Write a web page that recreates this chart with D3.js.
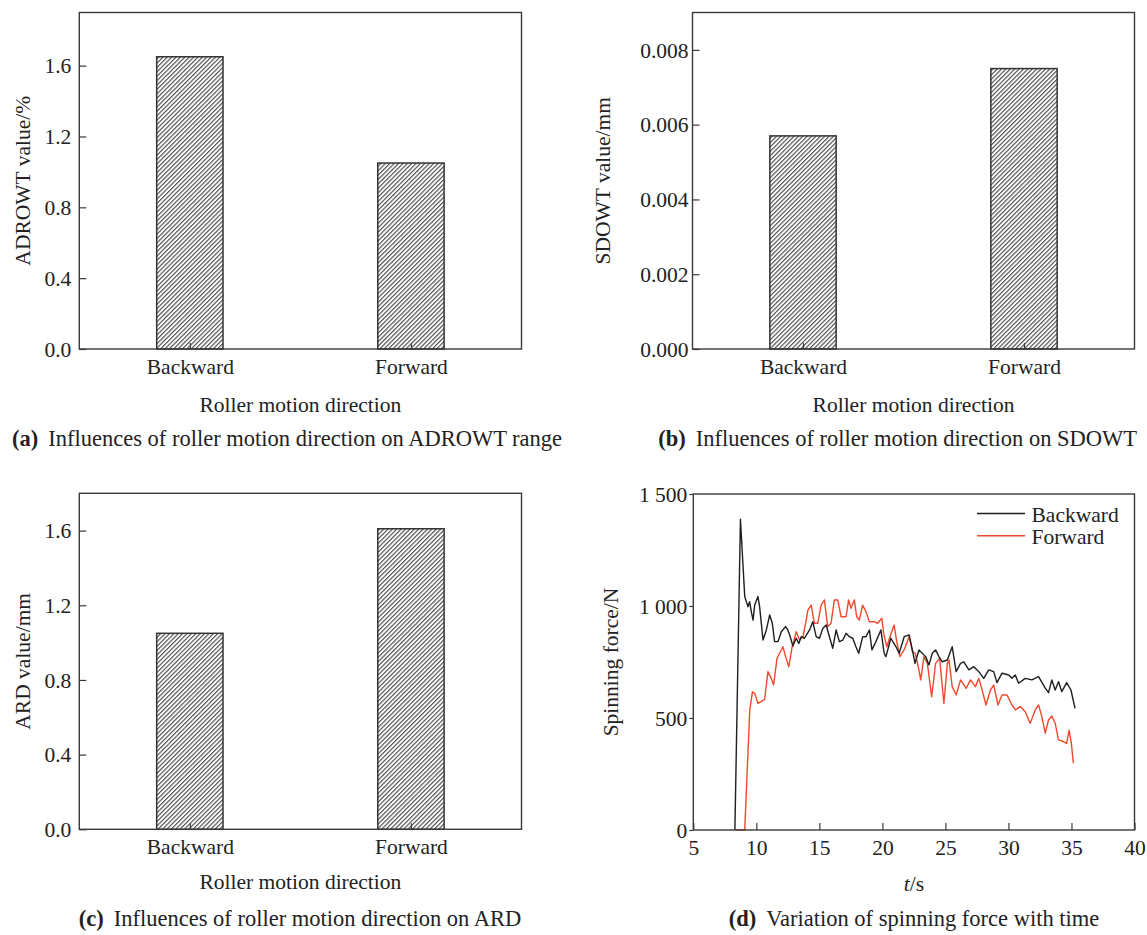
<!DOCTYPE html>
<html>
<head>
<meta charset="utf-8">
<script src="https://cdn.jsdelivr.net/npm/d3@7"></script>
<style>
  body { margin: 0; background: #fff; }
  svg { display: block; }
  text { font-family: "Liberation Serif", "Times New Roman", serif; fill: #222; }
</style>
</head>
<body>
<svg id="fig" width="1147" height="935"></svg>
<script>
// ---- data ----
const directions = ["Backward", "Forward"];
const adrowtValues = [1.65, 1.05];       // %
const sdowtValues = [0.0057, 0.0075];    // mm
const ardValues = [1.05, 1.61];          // mm
const adrowtTicks = [0, 0.4, 0.8, 1.2, 1.6];
const sdowtTicks = [0, 0.002, 0.004, 0.006, 0.008];
const ardTicks = [0, 0.4, 0.8, 1.2, 1.6];

// spinning force vs time (s, N)
const backwardTime = [8.3, 8.74, 9.08, 9.34, 9.47, 9.6, 9.74, 9.87, 10.13, 10.26, 10.53, 10.79, 11.06, 11.27, 11.45, 11.72, 11.98, 12.32, 12.5, 12.69, 12.9, 13.16, 13.37, 13.56, 13.82, 14.22, 14.48, 14.75, 15.01, 15.27, 15.54, 15.8, 16.06, 16.33, 16.59, 16.86, 17.12, 17.38, 17.65, 17.9, 18.12, 18.44, 18.7, 18.97, 19.17, 19.49, 19.88, 20.14, 20.28, 20.67, 21.07, 21.33, 21.73, 22.12, 22.38, 22.59, 22.9, 23.43, 23.7, 23.96, 24.22, 24.49, 24.75, 25.15, 25.54, 25.85, 26.2, 26.46, 26.86, 27.25, 27.65, 28.04, 28.44, 28.83, 29.09, 29.49, 30.02, 30.28, 30.54, 30.81, 31.33, 31.86, 32.39, 32.92, 33.18, 33.44, 33.71, 33.97, 34.23, 34.62, 34.96, 35.28];
const backwardForce = [0, 1387, 1042, 997, 1019, 975, 937, 1004, 1042, 997, 848, 892, 960, 922, 841, 841, 885, 908, 893, 863, 821, 856, 833, 863, 856, 893, 930, 863, 856, 900, 915, 863, 811, 893, 841, 848, 878, 863, 856, 818, 789, 863, 863, 893, 804, 841, 893, 789, 774, 856, 819, 789, 863, 871, 804, 744, 804, 774, 737, 789, 804, 774, 751, 759, 818, 707, 744, 751, 715, 729, 707, 677, 715, 707, 658, 700, 692, 677, 692, 655, 677, 670, 685, 633, 613, 670, 625, 662, 618, 658, 625, 543];

const forwardTime = [8.37, 9.08, 9.48, 9.69, 9.87, 10.13, 10.4, 10.66, 10.92, 11.18, 11.37, 11.64, 11.85, 12.11, 12.32, 12.58, 12.84, 13.17, 13.43, 13.7, 13.96, 14.09, 14.35, 14.61, 14.88, 15.14, 15.4, 15.66, 15.93, 16.19, 16.46, 16.72, 17.12, 17.32, 17.51, 17.77, 17.96, 18.17, 18.43, 18.7, 18.96, 19.36, 19.62, 19.96, 20.1, 20.35, 20.6, 20.93, 21.12, 21.38, 21.72, 22.12, 22.38, 22.6, 22.85, 23.04, 23.3, 23.57, 23.91, 24.22, 24.54, 24.88, 25.15, 25.28, 25.54, 25.85, 26.2, 26.64, 26.99, 27.38, 27.65, 27.91, 28.22, 28.57, 28.83, 29.17, 29.49, 29.88, 30.28, 30.54, 30.94, 31.33, 31.73, 32.12, 32.39, 32.65, 32.92, 33.18, 33.44, 33.71, 33.97, 34.36, 34.62, 34.81, 34.99, 35.15];
const forwardForce = [0, 0, 536, 617, 610, 565, 574, 583, 707, 677, 647, 766, 789, 818, 774, 729, 818, 885, 848, 863, 937, 982, 1004, 923, 923, 1004, 1027, 908, 923, 1027, 1027, 952, 952, 1027, 990, 1027, 952, 937, 1004, 975, 930, 930, 923, 945, 878, 818, 863, 915, 848, 774, 804, 863, 796, 789, 729, 670, 774, 744, 595, 744, 766, 565, 744, 759, 640, 603, 670, 632, 670, 640, 677, 625, 558, 625, 647, 558, 603, 603, 558, 536, 551, 528, 476, 536, 558, 506, 432, 491, 509, 476, 402, 395, 387, 446, 387, 298];

const timeTicks = [5, 10, 15, 20, 25, 30, 35, 40];
const forceTicks = [0, 500, 1000, 1500];

// ---- drawing ----
const svg = d3.select("#fig");
const FONT = 21.5;
const CAP_FONT = 22.5;
const frameColor = "#3a3a3a";

const defs = svg.append("defs");
const hatch = defs.append("pattern")
  .attr("id", "hatch")
  .attr("patternUnits", "userSpaceOnUse")
  .attr("width", 3.1).attr("height", 10)
  .attr("patternTransform", "rotate(45)");
hatch.append("rect").attr("width", 3.1).attr("height", 10).attr("fill", "#fff");
hatch.append("line")
  .attr("x1", 0.6).attr("x2", 0.6).attr("y1", 0).attr("y2", 10)
  .attr("stroke", "#3c3c3c").attr("stroke-width", 1.05);

function caption(tag, rest, x, y, anchor) {
  const t = svg.append("text")
    .attr("x", x).attr("y", y)
    .attr("text-anchor", anchor)
    .attr("font-size", CAP_FONT);
  t.append("tspan").attr("font-weight", "bold").text(tag);
  t.append("tspan").attr("dx", 10).text(rest);
}

function styleAxis(g) {
  g.select(".domain").remove();
  g.selectAll(".tick line").attr("stroke", frameColor).attr("stroke-width", 1.2);
  g.selectAll(".tick text").attr("font-size", FONT).attr("fill", "#222")
    .attr("font-family", "Liberation Serif, Times New Roman, serif");
}

function barPanel(o) {
  const g = svg.append("g");
  const x = d3.scalePoint().domain(directions).range([o.left, o.right]).padding(0.5);
  const y = d3.scaleLinear().domain([0, o.yMax]).range([o.bottom, o.top]);
  const barW = (o.right - o.left) * 0.15;

  g.append("g")
    .selectAll("rect")
    .data(directions.map((d, i) => ({ d, v: o.values[i] })))
    .join("rect")
    .attr("x", p => x(p.d) - barW / 2)
    .attr("y", p => y(p.v))
    .attr("width", barW)
    .attr("height", p => y(0) - y(p.v))
    .attr("fill", "url(#hatch)")
    .attr("stroke", "#333")
    .attr("stroke-width", 1.5);

  g.append("g")
    .attr("transform", `translate(${o.left},0)`)
    .call(d3.axisLeft(y).tickValues(o.ticks).tickFormat(d3.format(o.fmt)).tickSize(-7).tickPadding(o.labelGap))
    .call(styleAxis)
    .call(a => a.selectAll(".tick text").attr("dy", "0.34em"));

  g.append("g")
    .attr("transform", `translate(0,${o.bottom})`)
    .call(d3.axisBottom(x).tickSize(-6))
    .call(styleAxis)
    .call(a => a.selectAll(".tick text").attr("dy", null).attr("y", 25));

  g.append("rect")
    .attr("x", o.left).attr("y", o.top)
    .attr("width", o.right - o.left).attr("height", o.bottom - o.top)
    .attr("fill", "none").attr("stroke", frameColor).attr("stroke-width", 1.4);

  g.append("text")
    .attr("transform", `translate(${o.titleX},${(o.top + o.bottom) / 2}) rotate(-90)`)
    .attr("text-anchor", "middle").attr("font-size", FONT)
    .text(o.yTitle);

  g.append("text")
    .attr("x", (o.left + o.right) / 2).attr("y", o.xTitleY)
    .attr("text-anchor", "middle").attr("font-size", FONT)
    .text("Roller motion direction");
}

barPanel({ left: 79.3, right: 521.5, top: 12.5, bottom: 349, yMax: 1.9,
  values: adrowtValues, ticks: adrowtTicks, fmt: ".1f", labelGap: 8,
  yTitle: "ADROWT value/%", titleX: 30, xTitleY: 412 });
barPanel({ left: 692.5, right: 1134.5, top: 12.5, bottom: 349, yMax: 0.009,
  values: sdowtValues, ticks: sdowtTicks, fmt: ".3f", labelGap: 4,
  yTitle: "SDOWT value/mm", titleX: 610, xTitleY: 412 });
barPanel({ left: 79.3, right: 521.5, top: 493.3, bottom: 829.3, yMax: 1.8,
  values: ardValues, ticks: ardTicks, fmt: ".1f", labelGap: 8,
  yTitle: "ARD value/mm", titleX: 30, xTitleY: 889 });

caption("(a)", "Influences of roller motion direction on ADROWT range", 12, 446, "start");
caption("(b)", "Influences of roller motion direction on SDOWT", 1137, 446, "end");
caption("(c)", "Influences of roller motion direction on ARD", 300, 926, "middle");
caption("(d)", "Variation of spinning force with time", 914, 926, "middle");

// ---- panel (d): spinning force ----
(function () {
  const L = 693.3, R = 1134.5, T = 494, B = 830;
  const g = svg.append("g");
  const x = d3.scaleLinear().domain([5, 40]).range([L, R]);
  const y = d3.scaleLinear().domain([0, 1500]).range([B, T]);
  const line = d3.line().x(p => x(p[0])).y(p => y(p[1]));

  const series = [
    { name: "Backward", color: "#1e1e1e", pts: d3.zip(backwardTime, backwardForce) },
    { name: "Forward", color: "#f0492e", pts: d3.zip(forwardTime, forwardForce) }
  ];

  g.append("g")
    .attr("transform", `translate(0,${B})`)
    .call(d3.axisBottom(x).tickValues(timeTicks).tickFormat(d3.format("d")).tickSize(-7))
    .call(styleAxis)
    .call(a => a.selectAll(".tick text").attr("dy", null).attr("y", 25));

  const fmtForce = v => v >= 1000 ? d3.format(",")(v).replace(",", " ") : String(v);
  g.append("g")
    .attr("transform", `translate(${L},0)`)
    .call(d3.axisLeft(y).tickValues(forceTicks).tickFormat(fmtForce).tickSize(4).tickPadding(2))
    .call(styleAxis)
    .call(a => a.selectAll(".tick text").attr("dy", "0.34em"));

  // Backward drawn last so it sits on top
  g.append("g").selectAll("path")
    .data([series[1], series[0]])
    .join("path")
    .attr("d", s => line(s.pts))
    .attr("fill", "none")
    .attr("stroke", s => s.color)
    .attr("stroke-width", 1.4)
    .attr("stroke-linejoin", "round");

  g.append("rect")
    .attr("x", L).attr("y", T).attr("width", R - L).attr("height", B - T)
    .attr("fill", "none").attr("stroke", frameColor).attr("stroke-width", 1.4);

  // legend
  const lg = g.append("g");
  series.forEach((s, i) => {
    const yy = 513.5 + i * 22.3;
    lg.append("line").attr("x1", 977).attr("x2", 1025).attr("y1", yy).attr("y2", yy)
      .attr("stroke", s.color).attr("stroke-width", 1.4);
    lg.append("text").attr("x", 1031.5).attr("y", yy + 8).attr("font-size", FONT).text(s.name);
  });

  g.append("text")
    .attr("transform", `translate(618,${(T + B) / 2}) rotate(-90)`)
    .attr("text-anchor", "middle").attr("font-size", FONT)
    .text("Spinning force/N");

  const xt = g.append("text")
    .attr("x", (L + R) / 2).attr("y", 891)
    .attr("text-anchor", "middle").attr("font-size", FONT);
  xt.append("tspan").attr("font-style", "italic").text("t");
  xt.append("tspan").text("/s");
})();
</script>
</body>
</html>
